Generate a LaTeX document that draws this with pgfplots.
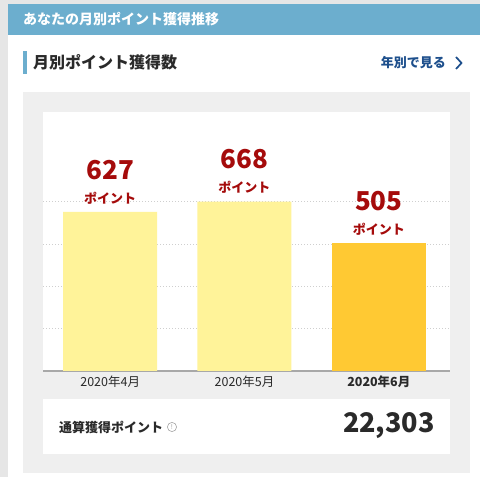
\documentclass[border=0pt]{standalone}
\usepackage{fontspec}
\setmainfont{Noto Sans CJK JP}
\usepackage{pgfplots}
\pgfplotsset{compat=1.18}
\definecolor{pagegray}{HTML}{E6E6E6}
\definecolor{hdrblue}{HTML}{6CAECE}
\definecolor{panelgray}{HTML}{EFEFEF}
\definecolor{barlight}{HTML}{FFF399}
\definecolor{barorange}{HTML}{FFC933}
\definecolor{valred}{HTML}{A50B0B}
\definecolor{linkblue}{HTML}{1D4F8C}
\definecolor{txtdark}{HTML}{2A2A2A}
\definecolor{gridgray}{HTML}{CFCFCF}
\definecolor{axisgray}{HTML}{A8A8A8}
\begin{document}
\begin{tikzpicture}[x=1pt,y=1pt]
\useasboundingbox (0,0) rectangle (480,477);
% page background and card
\fill[pagegray] (0,0) rectangle (480,477);
\fill[white] (8,0) rectangle (480,473);
\fill[hdrblue] (8,442) rectangle (480,473);
\node[anchor=west,inner sep=0,text=white,font=\fontsize{14}{14}\selectfont\bfseries] at (23,458) {あなたの月別ポイント獲得推移};
% subheading
\fill[hdrblue] (23,403) rectangle (27,426);
\node[anchor=west,inner sep=0,text=txtdark,font=\fontsize{16}{16}\selectfont\bfseries] at (33,415) {月別ポイント獲得数};
\node[anchor=east,inner sep=0,text=linkblue,font=\fontsize{13}{13}\selectfont\bfseries] at (446,414) {年別で見る};
\draw[linkblue,line width=1.7pt] (456,420) -- (461.5,414) -- (456,408);
% panels
\fill[panelgray] (23,4) rectangle (470,385);
\fill[white] (43,106) rectangle (450,365);
\fill[white] (43,23) rectangle (450,78);
\node[anchor=west,inner sep=0,text=txtdark,font=\fontsize{13}{13}\selectfont\bfseries] at (59,50) {通算獲得ポイント};
\draw[gray!70,line width=0.6pt] (172,50) circle (4.6);
\node[inner sep=0,text=gray!80,font=\fontsize{6.5}{6.5}\selectfont] at (172,50) {!};
\node[anchor=east,inner sep=0,text=txtdark,font=\fontsize{27}{27}\selectfont\bfseries] at (435,51) {22,303};
% chart
\begin{axis}[
  at={(43pt,106pt)}, anchor=south west,
  scale only axis, width=407pt, height=259pt,
  xmin=-0.5, xmax=2.53, ymin=0, ymax=1021,
  axis x line*=bottom, axis y line*=left,
  x axis line style={draw=axisgray,line width=1.3pt},
  y axis line style={draw=none},
  xtick={0,1,2},
  xticklabels={2020年4月,2020年5月,\textbf{2020年6月}},
  xticklabel style={font=\fontsize{12.5}{12.5}\selectfont,text=txtdark,yshift=-1pt},
  ytick={167,334,501,668}, yticklabels={},
  major tick length=0pt,
  ymajorgrids,
  major grid style={gridgray,line width=0.8pt,dash pattern=on 1pt off 2pt},
  clip=false,
]
\addplot[ybar,bar width=94pt,bar shift=0pt,fill=barlight,draw=none] coordinates {(0,627) (1,668)};
\addplot[ybar,bar width=94pt,bar shift=0pt,fill=barorange,draw=none] coordinates {(2,505)};
\addplot[draw=none,mark=none,
  nodes near coords={\pgfmathprintnumber[fixed,precision=0,assume math mode=true]{\pgfplotspointmeta}},
  every node near coord/.style={anchor=center,yshift=42pt,inner sep=0,text=valred,font=\fontsize{26}{26}\selectfont\bfseries}]
  coordinates {(0,627) (1,668) (2,505)};
\addplot[draw=none,mark=none,
  nodes near coords={ポイント},
  every node near coord/.style={anchor=center,yshift=14pt,inner sep=0,text=valred,font=\fontsize{13}{13}\selectfont\bfseries}]
  coordinates {(0,627) (1,668) (2,505)};
\end{axis}
\end{tikzpicture}
\end{document}
